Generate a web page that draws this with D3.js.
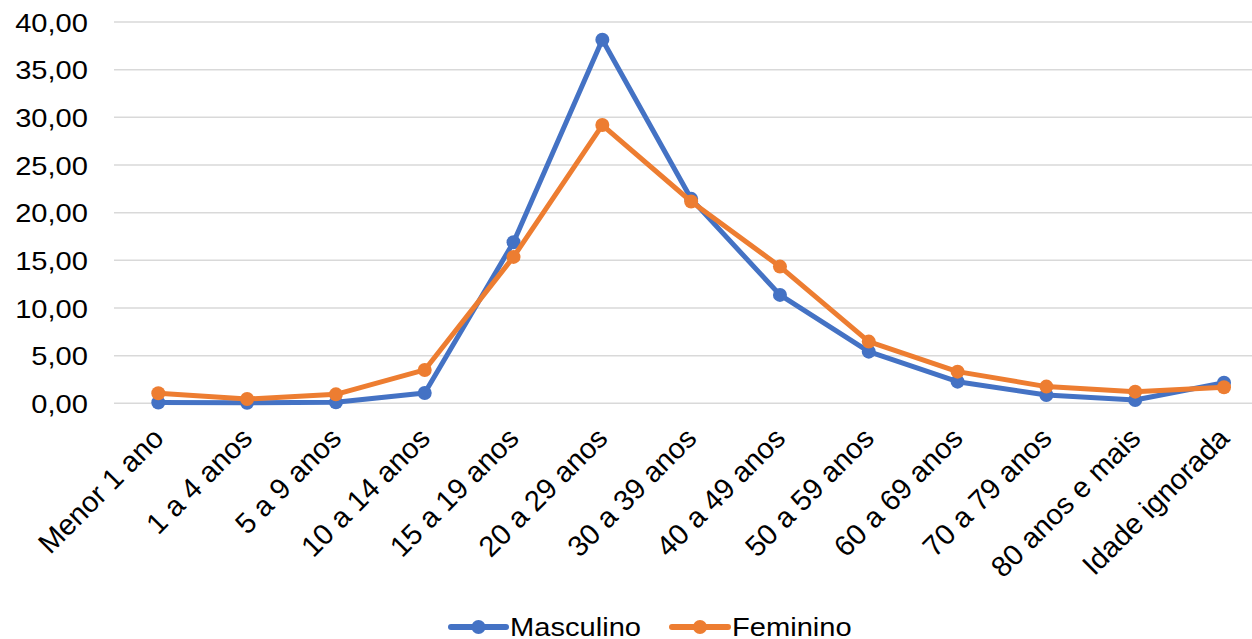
<!DOCTYPE html>
<html>
<head>
<meta charset="utf-8">
<script src="https://cdn.jsdelivr.net/npm/d3@7"></script>
<style>
  html, body { margin: 0; padding: 0; background: #fff; }
  svg { display: block; }
  text { font-family: "Liberation Sans", Arial, sans-serif; fill: #000; }
</style>
</head>
<body>
<svg id="chart" width="1252" height="639"></svg>
<script>
const categories = ["Menor 1 ano", "1 a 4 anos", "5 a 9 anos", "10 a 14 anos", "15 a 19 anos", "20 a 29 anos", "30 a 39 anos", "40 a 49 anos", "50 a 59 anos", "60 a 69 anos", "70 a 79 anos", "80 anos e mais", "Idade ignorada"];
const masculino = [0.08, 0.05, 0.10, 1.08, 16.90, 38.14, 21.45, 11.37, 5.42, 2.27, 0.87, 0.35, 2.16];
const feminino  = [1.05, 0.45, 0.94, 3.50, 15.36, 29.19, 21.17, 14.34, 6.47, 3.32, 1.75, 1.22, 1.68];
const yTicks = [0, 5, 10, 15, 20, 25, 30, 35, 40];
const seriesNames = ["Masculino", "Feminino"];
const colors = ["#4472C4", "#ED7D31"];

const svg = d3.select("#chart");
const fmt = v => d3.format(".2f")(v).replace(".", ",");
const sx = 1.12; // horizontal text stretch

const x = d3.scalePoint().domain(categories).range([158.3, 1224]);
const y = d3.scaleLinear().domain([0, 40]).range([403.3, 22]);

// gridlines
svg.append("g").selectAll("line").data(yTicks).join("line")
  .attr("x1", 114).attr("x2", 1268)
  .attr("y1", d => y(d)).attr("y2", d => y(d))
  .attr("stroke", "#d9d9d9").attr("stroke-width", 1.5);

// y axis labels
const yAxis = d3.axisLeft(y).tickValues(yTicks).tickFormat(fmt).tickSize(0).tickPadding(0);
const yg = svg.append("g").attr("transform", "translate(88,0)").call(yAxis);
yg.select(".domain").remove();
yg.selectAll("text")
  .attr("font-size", 26).attr("font-family", "Liberation Sans, Arial, sans-serif").attr("fill", "#000")
  .attr("x", 0).attr("dy", "0.35em")
  .attr("transform", `scale(${sx},1)`);

// x axis labels
const xAxis = d3.axisBottom(x).tickSize(0).tickPadding(0);
const xg = svg.append("g").call(xAxis);
xg.select(".domain").remove();
xg.selectAll(".tick").attr("transform", d => `translate(${x(d) + 7},440)`);
xg.selectAll("text")
  .attr("font-size", 29).attr("font-family", "Liberation Sans, Arial, sans-serif").attr("fill", "#000")
  .attr("text-anchor", "end").attr("y", 0).attr("dy", "0")
  .attr("transform", "rotate(-45)");

// lines
const line = d3.line().x((d, i) => x(categories[i])).y(d => y(d));
const data = [masculino, feminino];
data.forEach((vals, si) => {
  svg.append("path").datum(vals)
    .attr("d", line)
    .attr("fill", "none").attr("stroke", colors[si]).attr("stroke-width", 5)
    .attr("stroke-linejoin", "round");
  svg.append("g").selectAll("circle").data(vals).join("circle")
    .attr("cx", (d, i) => x(categories[i])).attr("cy", d => y(d))
    .attr("r", 7).attr("fill", colors[si]);
});

// legend
const legendItems = [{x0: 451, x1: 506, tx: 510}, {x0: 672, x1: 728, tx: 732}];
const ly = 627;
seriesNames.forEach((name, i) => {
  const it = legendItems[i];
  const g = svg.append("g");
  g.append("line").attr("x1", it.x0).attr("x2", it.x1).attr("y1", ly).attr("y2", ly)
    .attr("stroke", colors[i]).attr("stroke-width", 6).attr("stroke-linecap", "round");
  g.append("circle").attr("cx", (it.x0 + it.x1) / 2).attr("cy", ly).attr("r", 7).attr("fill", colors[i]);
  g.append("text").attr("transform", `translate(${it.tx},${ly}) scale(${sx},1)`)
    .attr("dy", "0.35em").attr("font-size", 26).text(name);
});
</script>
</body>
</html>
